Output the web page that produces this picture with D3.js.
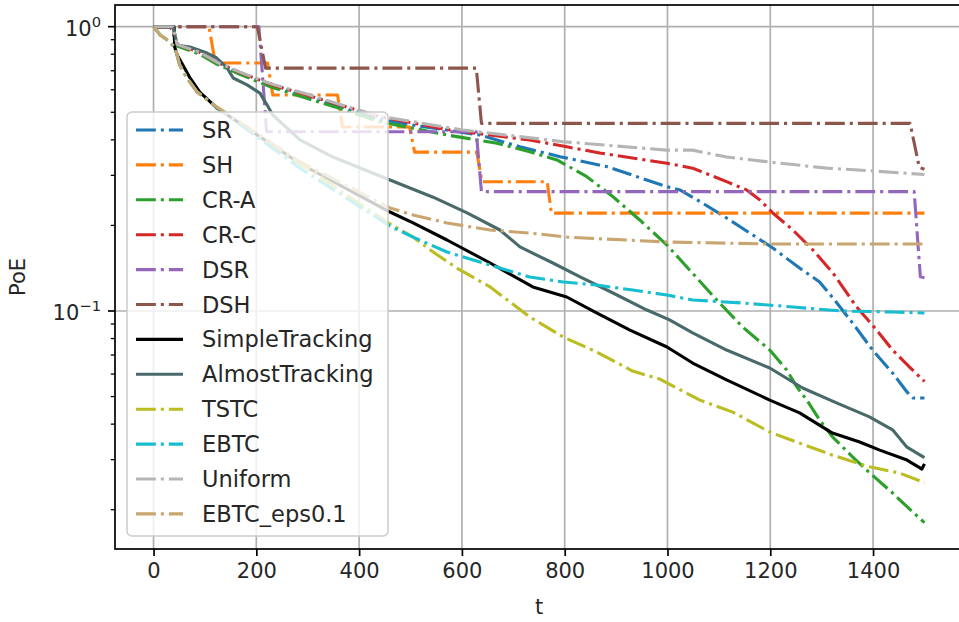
<!DOCTYPE html>
<html>
<head>
<meta charset="utf-8">
<script src="https://cdn.jsdelivr.net/npm/d3@7"></script>
<style>
  html, body { margin: 0; padding: 0; background: #fff; overflow: hidden; }
  svg { display: block; font-family: "DejaVu Sans", sans-serif; }
</style>
</head>
<body>
<svg id="chart" width="959" height="622"></svg>
<script>
// ---------------- data (t, PoE) ----------------
const xTicks = [0, 200, 400, 600, 800, 1000, 1200, 1400];
const yMajorTicks = [1, 0.1];
const yMajorLabels = [["10", "0"], ["10", "\u22121"]];

const SR = [[0,1],[38,1],[46,0.862],[90,0.808],[123,0.745],[168,0.687],[230,0.62],[298,0.572],[363,0.525],[441,0.472],[506,0.45],[571,0.433],[635,0.416],[713,0.378],[791,0.349],[882,0.322],[999,0.2736],[1024,0.2666],[1068,0.2398],[1115,0.2124],[1166,0.1851],[1205,0.1665],[1257,0.1416],[1296,0.1265],[1325,0.1093],[1360,0.0908],[1399,0.0729],[1438,0.0605],[1466,0.0519],[1478,0.0494],[1500,0.0494]];
const SH = [[0,1],[108,1],[120,0.745],[222,0.745],[232,0.575],[358,0.575],[368,0.444],[498,0.444],[508,0.362],[629,0.362],[639,0.285],[766,0.285],[774,0.221],[1500,0.221]];
const CRA = [[0,1],[38,1],[46,0.855],[90,0.8],[123,0.738],[168,0.68],[230,0.612],[298,0.56],[363,0.515],[441,0.463],[571,0.416],[668,0.389],[732,0.363],[785,0.34],[843,0.2968],[894,0.2523],[946,0.209],[999,0.1706],[1043,0.1394],[1096,0.1093],[1146,0.0879],[1199,0.0729],[1232,0.062],[1251,0.0543],[1271,0.0486],[1296,0.0414],[1321,0.0361],[1360,0.0307],[1393,0.027],[1438,0.0229],[1466,0.0205],[1500,0.018]];
const CRC = [[0,1],[33,1],[46,0.866],[90,0.812],[123,0.75],[168,0.69],[230,0.625],[298,0.575],[363,0.53],[441,0.482],[577,0.433],[732,0.3995],[804,0.378],[868,0.3595],[999,0.3307],[1049,0.318],[1115,0.285],[1154,0.2666],[1180,0.2457],[1205,0.2212],[1244,0.1927],[1283,0.1639],[1322,0.136],[1368,0.1033],[1407,0.0857],[1438,0.0729],[1471,0.0635],[1500,0.0565]];
const DSR = [[0,1],[205,1],[220,0.427],[628,0.427],[638,0.263],[1480,0.263],[1492,0.132],[1500,0.131]];
const DSH = [[0,1],[202,1],[218,0.715],[628,0.715],[638,0.457],[1472,0.457],[1490,0.32],[1500,0.315]];
const SimpleTracking = [[0,1],[40,1],[41,0.85],[46,0.795],[57,0.733],[71,0.66],[90,0.589],[123,0.518],[285,0.33],[460,0.2229],[505,0.204],[571,0.1777],[655,0.1475],[738,0.1215],[804,0.112],[862,0.0985],[927,0.0857],[999,0.0747],[1049,0.0656],[1115,0.0572],[1199,0.0486],[1257,0.0438],[1321,0.0372],[1374,0.0346],[1413,0.0324],[1466,0.0299],[1488,0.0283],[1495,0.0278],[1500,0.029]];
const AlmostTracking = [[0,1],[38,1],[46,0.86],[71,0.848],[104,0.808],[123,0.776],[143,0.716],[155,0.66],[182,0.624],[207,0.584],[221,0.53],[232,0.489],[285,0.4],[349,0.348],[460,0.289],[544,0.2513],[610,0.2212],[674,0.1927],[713,0.168],[777,0.1475],[830,0.1317],[894,0.1157],[960,0.1008],[1004,0.093],[1049,0.0837],[1115,0.0729],[1199,0.063],[1263,0.0536],[1329,0.0475],[1393,0.0424],[1438,0.0382],[1466,0.0332],[1500,0.0305]];
const TSTC = [[0,1],[13,0.935],[32,0.883],[42,0.841],[51,0.733],[65,0.66],[85,0.589],[110,0.544],[126,0.515],[285,0.33],[460,0.2023],[505,0.182],[544,0.1612],[590,0.1416],[655,0.1215],[732,0.0953],[797,0.081],[862,0.0718],[932,0.0615],[985,0.0576],[1063,0.0486],[1127,0.0441],[1199,0.0375],[1257,0.0343],[1321,0.0311],[1393,0.0283],[1452,0.0269],[1500,0.0249]];
const EBTC = [[0,1],[13,0.935],[32,0.883],[42,0.841],[51,0.733],[65,0.66],[85,0.589],[110,0.544],[126,0.515],[285,0.318],[460,0.199],[505,0.182],[571,0.1612],[655,0.145],[732,0.1317],[797,0.1265],[862,0.1234],[932,0.1185],[999,0.1138],[1049,0.1093],[1146,0.1067],[1244,0.1033],[1290,0.1016],[1341,0.1],[1438,0.0992],[1500,0.0984]];
const Uniform = [[0,1],[38,1],[46,0.866],[90,0.812],[123,0.75],[168,0.692],[230,0.628],[298,0.58],[363,0.532],[441,0.484],[602,0.433],[797,0.394],[998,0.368],[1049,0.368],[1115,0.348],[1199,0.334],[1310,0.318],[1399,0.311],[1500,0.302]];
const EBTC_eps = [[0,1],[13,0.935],[32,0.883],[42,0.841],[51,0.733],[65,0.66],[85,0.589],[110,0.544],[126,0.518],[285,0.335],[460,0.2303],[505,0.2176],[571,0.204],[655,0.1927],[732,0.188],[804,0.182],[882,0.179],[999,0.1749],[1199,0.172],[1485,0.172],[1500,0.172]];

const seriesNames = ["SR","SH","CR-A","CR-C","DSR","DSH","SimpleTracking","AlmostTracking","TSTC","EBTC","Uniform","EBTC_eps0.1"];
const seriesData = [SR, SH, CRA, CRC, DSR, DSH, SimpleTracking, AlmostTracking, TSTC, EBTC, Uniform, EBTC_eps];
const seriesColors = ["#1f77b4","#ff7f0e","#2ca02c","#d62728","#9467bd","#8c564b","#000000","#4a6a6a","#bcbd22","#17becf","#b5b5b5","#c9a56f"];
const seriesDashed = [true,true,true,true,true,true,false,false,true,true,true,true];

// ---------------- layout ----------------
const svg = d3.select("#chart");
const L = 115, R = 963, T = 5, B = 549;
const FS = 21;
const LFS = 22.5;
const LW = 3.1;
const dashArr = [6.4*LW, 1.6*LW, 1*LW, 1.6*LW].map(d => d.toFixed(2)).join(",");

const x = d3.scaleLinear().domain([-75, 1575]).range([L, R]);
const y = d3.scaleLog().domain([0.01455, 1.192]).range([B, T]);

svg.append("defs").append("clipPath").attr("id", "clip")
  .append("rect").attr("x", L).attr("y", T).attr("width", R - L).attr("height", B - T);

// grid
const grid = svg.append("g");
grid.selectAll("line.gx").data(xTicks).enter().append("line")
  .attr("x1", d => x(d)).attr("x2", d => x(d)).attr("y1", T).attr("y2", B)
  .attr("stroke", "#b0b0b0").attr("stroke-width", 1.7);
grid.selectAll("line.gy").data(yMajorTicks).enter().append("line")
  .attr("x1", L).attr("x2", R).attr("y1", d => y(d)).attr("y2", d => y(d))
  .attr("stroke", "#b0b0b0").attr("stroke-width", 1.7);

// lines
const line = d3.line().x(d => x(d[0])).y(d => y(d[1]));
const lines = svg.append("g").attr("clip-path", "url(#clip)");
seriesData.forEach((data, i) => {
  lines.append("path").datum(data)
    .attr("d", line)
    .attr("fill", "none")
    .attr("stroke", seriesColors[i])
    .attr("stroke-width", LW)
    .attr("stroke-linejoin", "round")
    .attr("stroke-dasharray", seriesDashed[i] ? dashArr : null);
});

// axes
const xAxis = d3.axisBottom(x).tickValues(xTicks).tickSize(7).tickPadding(7).tickFormat(d3.format("d"));
const gx = svg.append("g").attr("transform", `translate(0,${B})`).call(xAxis);
gx.select(".domain").remove();
gx.selectAll(".tick line").attr("stroke", "#000").attr("stroke-width", 1.7);
gx.selectAll(".tick text").attr("font-size", FS).attr("fill", "#262626").attr("font-family", "DejaVu Sans");

const minorTicks = [];
[0.01, 0.1].forEach(dec => { for (let k = 2; k <= 9; k++) { const v = dec * k; if (v >= 0.01455 && v <= 1.192) minorTicks.push(v); } });
const gy = svg.append("g");
gy.selectAll("line.minor").data(minorTicks).enter().append("line")
  .attr("x1", L - 4.2).attr("x2", L).attr("y1", d => y(d)).attr("y2", d => y(d))
  .attr("stroke", "#000").attr("stroke-width", 1.3);
gy.selectAll("line.major").data(yMajorTicks).enter().append("line")
  .attr("x1", L - 7).attr("x2", L).attr("y1", d => y(d)).attr("y2", d => y(d))
  .attr("stroke", "#000").attr("stroke-width", 1.7);
yMajorTicks.forEach((v, i) => {
  const t = gy.append("text").attr("x", L - 14).attr("y", y(v) + 9)
    .attr("text-anchor", "end").attr("font-size", FS).attr("fill", "#262626");
  t.append("tspan").text(yMajorLabels[i][0]);
  t.append("tspan").attr("font-size", FS * 0.7).attr("dy", -9).text(yMajorLabels[i][1]);
});

// spines
svg.append("rect").attr("x", L).attr("y", T).attr("width", R - L).attr("height", B - T)
  .attr("fill", "none").attr("stroke", "#000").attr("stroke-width", 1.7);

// axis labels
svg.append("text").attr("x", (L + R) / 2).attr("y", 614).attr("text-anchor", "middle")
  .attr("font-size", FS).attr("fill", "#262626").text("t");
svg.append("text").attr("transform", `translate(25,${(T + B) / 2}) rotate(-90)`)
  .attr("text-anchor", "middle").attr("font-size", FS).attr("fill", "#262626").text("PoE");

// legend
const lg = svg.append("g");
lg.append("rect").attr("x", 127).attr("y", 112).attr("width", 261).attr("height", 424)
  .attr("rx", 5).attr("fill", "#fff").attr("fill-opacity", 0.8)
  .attr("stroke", "#cccccc").attr("stroke-width", 1.5);
seriesNames.forEach((name, i) => {
  const yy = 130 + i * 34.9;
  lg.append("line").attr("x1", 136).attr("x2", 183).attr("y1", yy).attr("y2", yy)
    .attr("stroke", seriesColors[i]).attr("stroke-width", LW)
    .attr("stroke-dasharray", seriesDashed[i] ? dashArr : null);
  lg.append("text").attr("x", 202).attr("y", yy + 8)
    .attr("font-size", LFS).attr("fill", "#262626").text(name);
});
</script>
</body>
</html>
